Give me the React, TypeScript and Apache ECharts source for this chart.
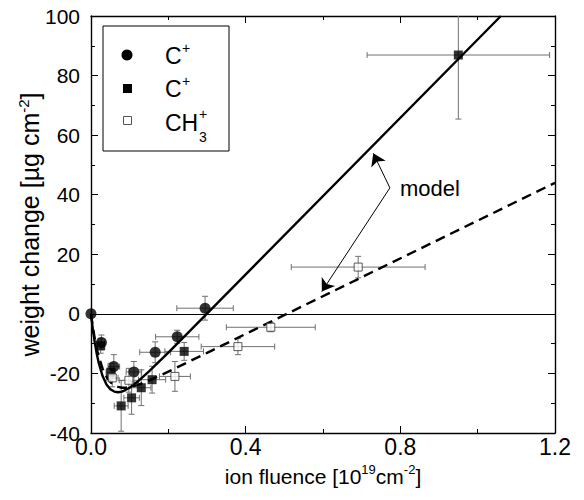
import React, { useEffect, useRef } from "react";
import * as echarts from "echarts";

const FONT = "'Liberation Sans', Arial, Helvetica, sans-serif";

// C+ (filled circles): [fluence, weight change]
const circlePoints: number[][] = [
  [0.0, 0.0], [0.027, -9.6], [0.059, -17.7], [0.111, -19.5],
  [0.166, -12.9], [0.223, -7.7], [0.295, 1.9],
];
// their error bars: [x error, y error]
const circleErrors: number[][] = [
  [0, 0], [0.008, 2.5], [0.015, 4], [0.02, 3.5],
  [0.04, 3.5], [0.056, 2.2], [0.073, 4],
];

// C+ (filled squares)
const squarePoints: number[][] = [
  [0.025, -10.7], [0.051, -19.6], [0.078, -30.9], [0.105, -28.2],
  [0.13, -24.8], [0.158, -22.1], [0.241, -12.6], [0.95, 86.9],
];
const squareErrors: number[][] = [
  [0.008, 2.5], [0.012, 3], [0.018, 8.5], [0.02, 5.5],
  [0.025, 6], [0.035, 4.5], [0.05, 3], [0.236, 21.5],
];

// CH3+ (open squares)
const openPoints: number[][] = [
  [0.055, -21.5], [0.098, -22.3], [0.217, -21.0],
  [0.38, -11.0], [0.465, -4.5], [0.691, 15.7],
];
const openErrors: number[][] = [
  [0.015, 3], [0.025, 4], [0.04, 5],
  [0.095, 2.7], [0.115, 1.5], [0.173, 3.6],
];

// model curves
const modelSolid: number[][] = [
  [0, 0], [0.005, -5.4], [0.01, -9.8], [0.015, -13.5], [0.02, -16.5],
  [0.03, -20.9], [0.04, -23.7], [0.05, -25.3], [0.06, -26.1], [0.07, -26.3],
  [0.08, -26.1], [0.09, -25.5], [0.1, -24.8], [0.12, -22.8], [0.15, -19.3],
  [0.2, -13.0], [0.3, 0.1], [1.06, 100],
];
const modelDashed: number[][] = [
  [0, 0], [0.005, -4.6], [0.01, -8.5], [0.015, -11.7], [0.02, -14.3],
  [0.03, -18.4], [0.04, -21.1], [0.05, -22.9], [0.06, -24.0], [0.07, -24.5],
  [0.08, -24.8], [0.09, -24.8], [0.1, -24.6], [0.12, -23.9], [0.15, -22.4],
  [0.2, -19.4], [0.3, -13.1], [1.2, 44.0],
];

// annotation arrows ("model"): common start, two tips (data coords)
const arrowStart: number[] = [0.773, 42.3];
const arrowTips: number[][] = [[0.73, 53.9], [0.597, 7.5]];

const xTicks = { min: 0, max: 1.2, interval: 0.4 };
const yTicks = { min: -40, max: 100, interval: 20 };

function withErr(points: number[][], errs: number[][]) {
  return points.map((p, i) => [p[0], p[1], errs[i][0], errs[i][1]]);
}

function errRender(params: any, api: any) {
  const x = api.value(0);
  const y = api.value(1);
  const ex = api.value(2);
  const ey = api.value(3);
  const cap = 3;
  const style = { stroke: "#707070", lineWidth: 1 };
  const children: any[] = [];
  if (ex > 0) {
    const l = api.coord([x - ex, y]);
    const r = api.coord([x + ex, y]);
    children.push({ type: "line", shape: { x1: l[0], y1: l[1], x2: r[0], y2: r[1] }, style });
    children.push({ type: "line", shape: { x1: l[0], y1: l[1] - cap, x2: l[0], y2: l[1] + cap }, style });
    children.push({ type: "line", shape: { x1: r[0], y1: r[1] - cap, x2: r[0], y2: r[1] + cap }, style });
  }
  if (ey > 0) {
    const t = api.coord([x, y + ey]);
    const b = api.coord([x, y - ey]);
    children.push({ type: "line", shape: { x1: t[0], y1: t[1], x2: b[0], y2: b[1] }, style });
    children.push({ type: "line", shape: { x1: t[0] - cap, y1: t[1], x2: t[0] + cap, y2: t[1] }, style });
    children.push({ type: "line", shape: { x1: b[0] - cap, y1: b[1], x2: b[0] + cap, y2: b[1] }, style });
  }
  return { type: "group", children };
}

const axisLineStyle = { color: "#000", width: 1.4 };

function xAxisDef(pos: "bottom" | "top", labels: boolean): any {
  return {
    type: "value",
    ...xTicks,
    position: pos,
    axisLine: { show: true, onZero: false, lineStyle: axisLineStyle },
    axisTick: { show: true, inside: true, length: 7, lineStyle: { color: "#000", width: 1 } },
    minorTick: { show: true, splitNumber: 2, length: 4, lineStyle: { color: "#000", width: 1 } },
    splitLine: { show: false },
    axisLabel: labels
      ? {
          show: true,
          formatter: (v: number) => v.toFixed(1),
          fontSize: 23,
          lineHeight: 14,
          color: "#000",
          margin: 7,
          fontFamily: FONT,
        }
      : { show: false },
  };
}

function yAxisDef(pos: "left" | "right", labels: boolean): any {
  return {
    type: "value",
    ...yTicks,
    position: pos,
    axisLine: { show: true, onZero: false, lineStyle: axisLineStyle },
    axisTick: { show: true, inside: true, length: 7, lineStyle: { color: "#000", width: 1 } },
    minorTick: { show: true, splitNumber: 2, length: 4, lineStyle: { color: "#000", width: 1 } },
    splitLine: { show: false },
    axisLabel: labels
      ? { show: true, fontSize: 21, lineHeight: 14, color: "#000", margin: 11, fontFamily: FONT }
      : { show: false },
  };
}

const richX = {
  t: { fontSize: 21, color: "#000", fontFamily: FONT, lineHeight: 26 },
  s: { fontSize: 13, color: "#000", fontFamily: FONT, verticalAlign: "top", lineHeight: 14 },
};
const richY = {
  t: { fontSize: 25, color: "#000", fontFamily: FONT, lineHeight: 28 },
  s: { fontSize: 15, color: "#000", fontFamily: FONT, verticalAlign: "top", lineHeight: 15 },
};

export default function App() {
  const ref = useRef<HTMLDivElement>(null);

  useEffect(() => {
    if (!ref.current) return;
    const chart = echarts.init(ref.current, undefined, { renderer: "svg" });

    const xBottom = xAxisDef("bottom", true);
    xBottom.name = "{t|ion fluence [10}{s|19}{t|cm}{s|-2}{t|]}";
    xBottom.nameLocation = "middle";
    xBottom.nameGap = 28;
    xBottom.nameTextStyle = { rich: richX };

    const yLeft = yAxisDef("left", true);
    yLeft.name = "{t|weight change [µg cm}{s|-2}{t|]}";
    yLeft.nameLocation = "middle";
    yLeft.nameGap = 47;
    yLeft.nameMoveOverlap = false;
    yLeft.nameTextStyle = { rich: richY };

    const option: any = {
      animation: false,
      backgroundColor: "#fff",
      textStyle: { fontFamily: FONT },
      grid: { left: 91, right: 29, top: 16, bottom: 67, containLabel: false },
      xAxis: [xBottom, xAxisDef("top", false)],
      yAxis: [yLeft, yAxisDef("right", false)],
      series: [
        {
          name: "err-circle",
          type: "custom",
          renderItem: errRender,
          data: withErr(circlePoints, circleErrors),
          clip: true,
          z: 1,
          silent: true,
        },
        {
          name: "err-square",
          type: "custom",
          renderItem: errRender,
          data: withErr(squarePoints, squareErrors),
          clip: true,
          z: 1,
          silent: true,
        },
        {
          name: "err-open",
          type: "custom",
          renderItem: errRender,
          data: withErr(openPoints, openErrors),
          clip: true,
          z: 1,
          silent: true,
        },
        {
          name: "model",
          type: "line",
          data: modelSolid,
          showSymbol: false,
          symbol: "none",
          lineStyle: { color: "#000", width: 2.4 },
          clip: true,
          z: 2,
          markLine: {
            silent: true,
            symbol: ["none", "none"],
            label: { show: false },
            lineStyle: { color: "#000", type: "solid", width: 1 },
            data: [{ yAxis: 0 }],
          },
        },
        {
          name: "model (dashed)",
          type: "line",
          data: modelDashed,
          showSymbol: false,
          symbol: "none",
          lineStyle: { color: "#000", width: 2.4, type: [10, 6] },
          clip: true,
          z: 2,
        },
        {
          name: "arrows",
          type: "line",
          data: [],
          symbol: "none",
          z: 5,
          markLine: {
            silent: true,
            symbol: ["none", "arrow"],
            symbolSize: 12,
            label: { show: false },
            lineStyle: { color: "#000", type: "solid", width: 1 },
            itemStyle: { color: "#000" },
            data: arrowTips.map((tip) => [
              { coord: arrowStart },
              { coord: tip },
            ]),
          },
        },
        {
          name: "C+",
          type: "scatter",
          data: circlePoints,
          symbol: "circle",
          symbolSize: 11,
          itemStyle: { color: "#000" },
          z: 4,
        },
        {
          name: "C+ ",
          type: "scatter",
          data: squarePoints,
          symbol: "rect",
          symbolSize: 9,
          itemStyle: { color: "#000" },
          z: 4,
        },
        {
          name: "CH3+",
          type: "scatter",
          data: openPoints,
          symbol: "rect",
          symbolSize: 8,
          itemStyle: { color: "#fff", borderColor: "#333", borderWidth: 1 },
          z: 4,
        },
      ],
      graphic: [
        {
          type: "rect",
          shape: { x: 103, y: 26, width: 126, height: 125 },
          style: { fill: "#fff", stroke: "#000", lineWidth: 1 },
          z: 10,
        },
        { type: "circle", shape: { cx: 127, cy: 55, r: 5.5 }, style: { fill: "#000" }, z: 11 },
        { type: "rect", shape: { x: 123, y: 84, width: 9, height: 9 }, style: { fill: "#000" }, z: 11 },
        {
          type: "rect",
          shape: { x: 123.5, y: 116.5, width: 8, height: 8 },
          style: { fill: "#fff", stroke: "#555", lineWidth: 1 },
          z: 11,
        },
        { type: "text", x: 165, y: 56, style: { text: "C", font: `23px ${FONT}`, fill: "#000", verticalAlign: "middle" }, z: 11 },
        { type: "text", x: 182, y: 48, style: { text: "+", font: `14px ${FONT}`, fill: "#000", verticalAlign: "middle" }, z: 11 },
        { type: "text", x: 165, y: 89, style: { text: "C", font: `23px ${FONT}`, fill: "#000", verticalAlign: "middle" }, z: 11 },
        { type: "text", x: 182, y: 81, style: { text: "+", font: `14px ${FONT}`, fill: "#000", verticalAlign: "middle" }, z: 11 },
        { type: "text", x: 165, y: 123, style: { text: "CH", font: `23px ${FONT}`, fill: "#000", verticalAlign: "middle" }, z: 11 },
        { type: "text", x: 199, y: 114, style: { text: "+", font: `14px ${FONT}`, fill: "#000", verticalAlign: "middle" }, z: 11 },
        { type: "text", x: 199, y: 137, style: { text: "3", font: `14px ${FONT}`, fill: "#000", verticalAlign: "middle" }, z: 11 },
        { type: "text", x: 400, y: 188, style: { text: "model", font: `22px ${FONT}`, fill: "#000", verticalAlign: "middle" }, z: 11 },
      ],
    };

    chart.setOption(option);
    return () => chart.dispose();
  }, []);

  return <div ref={ref} style={{ width: 584, height: 500, margin: -8 }} />;
}
